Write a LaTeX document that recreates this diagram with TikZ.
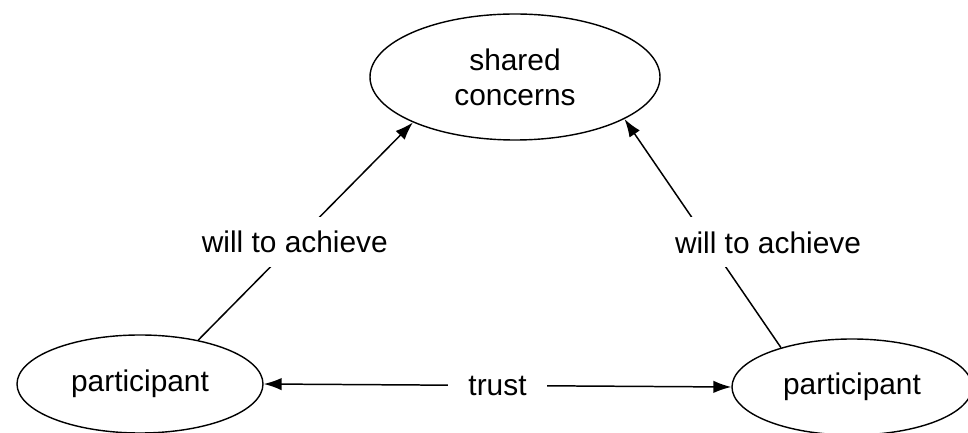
\documentclass[tikz,border=0pt]{standalone}
\usepackage{fontspec}
\setmainfont{Liberation Sans}
\usepackage{tikz}
\usetikzlibrary{shapes.geometric, arrows.meta, positioning, calc}

\begin{document}
\begin{tikzpicture}[
    concept/.style={draw=black, ellipse, line width=0.8pt, inner sep=0pt,
                    minimum width=#1, align=center,
                    font=\fontsize{17}{20}\selectfont},
    link/.style={line width=0.85pt, -{Latex[length=0.36cm, width=0.25cm]}},
    linklabel/.style={fill=white, inner xsep=3pt, inner ysep=0.28cm,
                      font=\fontsize{17}{20}\selectfont}
]
    \useasboundingbox (0,0) rectangle (19.36,8.66);

    \node[concept=5.8cm, minimum height=2.52cm] (shared) at (10.30,7.12)
        {shared\\concerns};
    \node[concept=4.92cm, minimum height=1.96cm] (left) at (2.80,0.98)
        {participant};
    \node[concept=4.8cm, minimum height=1.92cm] (right) at (17.04,0.92)
        {participant};

    \draw[link] (left.37) -- node[linklabel, pos=0.45] (willleft) {will to achieve} (shared.204);
    \draw[link] (right.151.6) -- node[linklabel, pos=0.46, xshift=1.18cm] (willright) {will to achieve} (shared.339);
    \draw[link, {Latex[length=0.36cm, width=0.25cm]}-{Latex[length=0.36cm, width=0.25cm]}]
        (left.east) -- node[linklabel, inner xsep=0.4cm] (trust) {trust} (right.west);
\end{tikzpicture}
\end{document}
